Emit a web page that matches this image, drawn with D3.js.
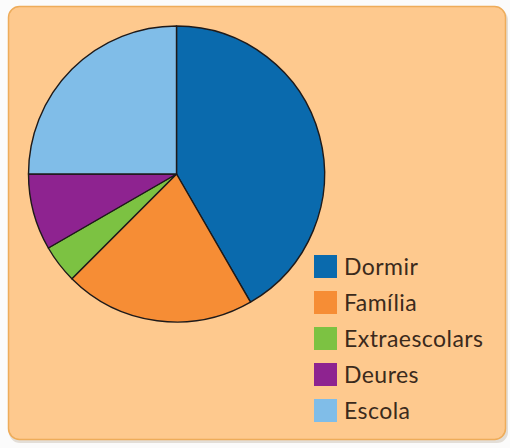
<!DOCTYPE html>
<html>
<head>
<meta charset="utf-8">
<script src="https://cdnjs.cloudflare.com/ajax/libs/d3/7.8.5/d3.min.js"></script>
<style>
  body { margin: 0; background: #fbfbfb; }
  svg { display: block; }
  .legend text { font-family: Lato, "Open Sans", sans-serif; font-size: 23px; letter-spacing: 0.45px; fill: #3b2a1c; }
</style>
</head>
<body>
<svg id="chart" width="510" height="448"></svg>
<script>
// hours of a day (15 deg = 1 h)
const categories = ["Dormir", "Família", "Extraescolars", "Deures", "Escola"];
const hours = [10, 5, 1, 2, 6];
const colors = ["#0a6aad", "#f68d35", "#7cc242", "#8e2390", "#80bde8"];

const svg = d3.select("#chart");

// panel behind everything
svg.append("rect")
  .attr("x", 9).attr("y", 9).attr("width", 499).attr("height", 434)
  .attr("rx", 11).attr("fill", "#d8d2c8").attr("opacity", 0.7);
svg.append("rect")
  .attr("x", 8.5).attr("y", 6.5).attr("width", 497).attr("height", 433)
  .attr("rx", 11).attr("fill", "#fec98e").attr("stroke", "#eeac5a").attr("stroke-width", 1.5);

const cx = 176.5, cy = 174, r = 148;

const pie = d3.pie().sort(null).value(d => d.h);
const arc = d3.arc().innerRadius(0).outerRadius(r);
const data = categories.map((c, i) => ({ name: c, h: hours[i], color: colors[i] }));

svg.append("g")
  .attr("transform", `translate(${cx},${cy})`)
  .selectAll("path")
  .data(pie(data))
  .join("path")
    .attr("d", arc)
    .attr("fill", d => d.data.color)
    .attr("stroke", "#1e1a1a")
    .attr("stroke-width", 1.4)
    .attr("stroke-linejoin", "round");

// legend
const y = d3.scaleBand().domain(categories).range([255, 435]).paddingInner(0);
const lg = svg.append("g").attr("class", "legend")
  .selectAll("g").data(data).join("g")
  .attr("transform", d => `translate(314,${y(d.name)})`);
lg.append("rect").attr("width", 23).attr("height", 23).attr("fill", d => d.color);
lg.append("text").attr("x", 30).attr("y", 19.5).text(d => d.name);
</script>
</body>
</html>
